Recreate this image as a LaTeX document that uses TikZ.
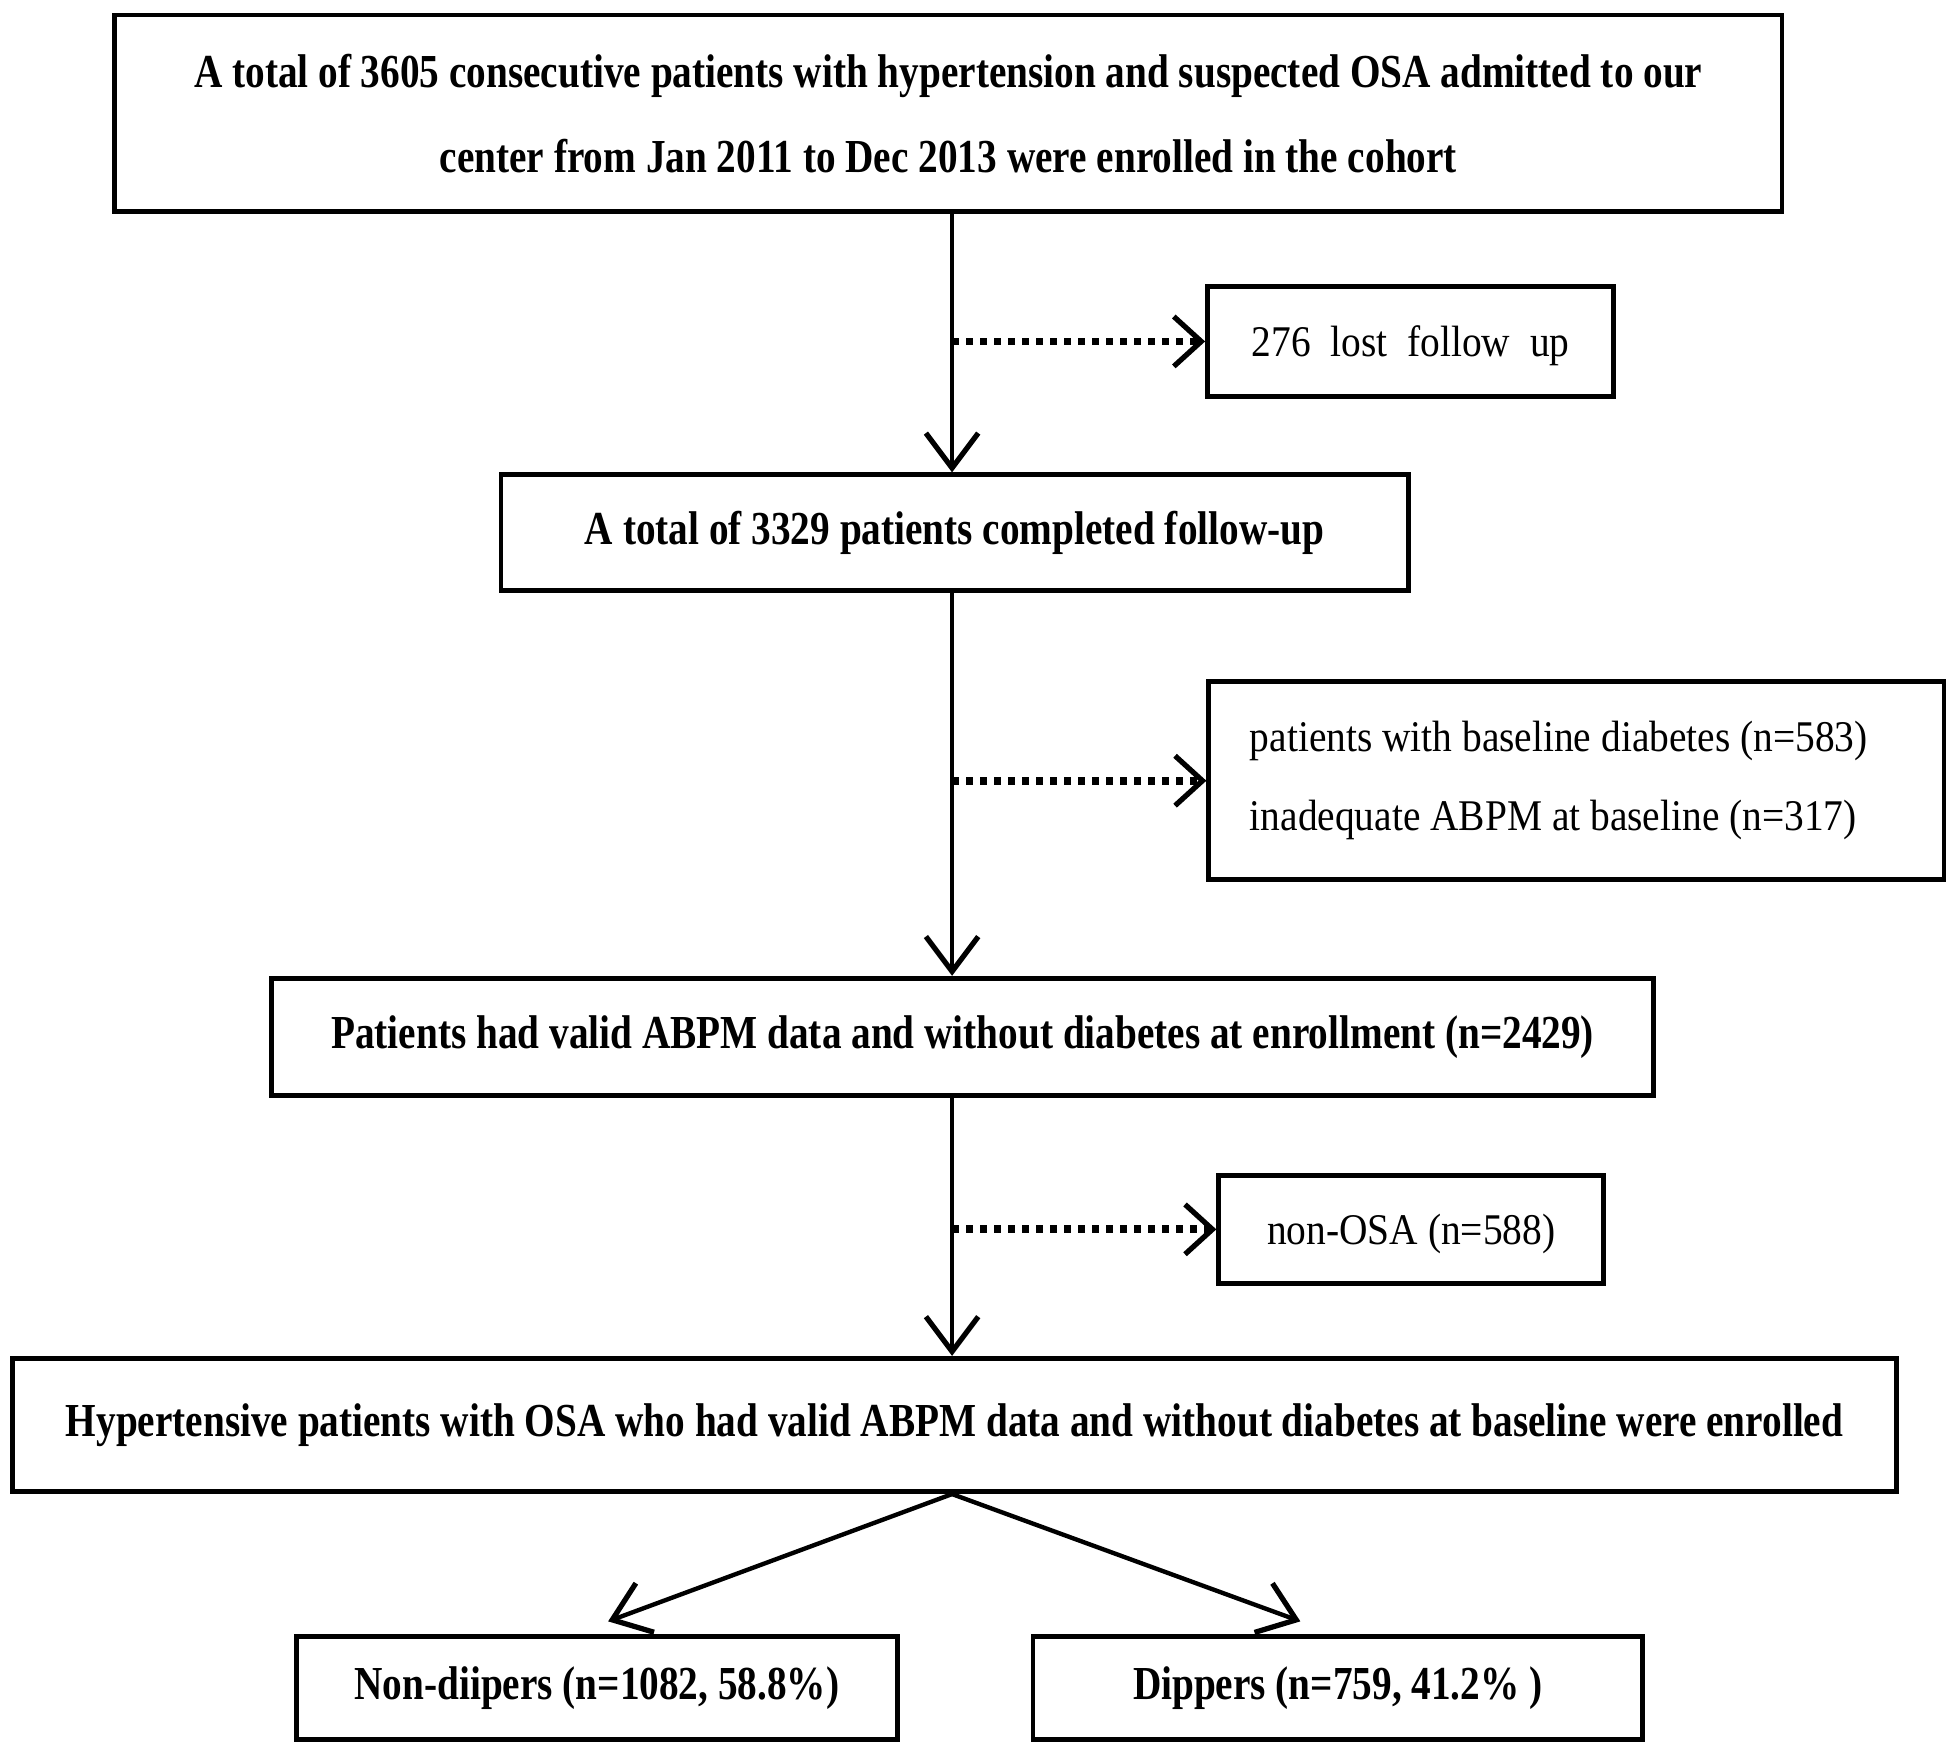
\documentclass[tikz,border=0pt]{standalone}
\usepackage{fontspec}
\setmainfont{Liberation Serif}
\newfontfamily\headfont[FakeStretch=0.83]{Liberation Serif Bold}
\newfontfamily\plainfont[FakeStretch=0.9]{Liberation Serif}
\usepackage{tikz}
\usetikzlibrary{arrows.meta}

\begin{document}
\begin{tikzpicture}[
    box/.style = {draw, line width=1.1pt, minimum width=#1, inner sep=0pt,
                  font=\headfont\fontsize{10.8}{19.3}\selectfont, align=center},
    exclbox/.style = {draw, line width=1.1pt, minimum width=#1, inner sep=0pt,
                  font=\plainfont\fontsize{10}{18}\selectfont},
    arr/.style = {line width=1pt, -{Straight Barb[length=0.28cm, width=0.42cm, line width=1.2pt]}},
    dotarr/.style = {line width=1.8pt, dash pattern=on 1.6pt off 1.6pt,
                  -{Straight Barb[length=0.22cm, width=0.4cm, line width=1.2pt]}}
  ]
    \useasboundingbox (0,0) rectangle (15.64,-14.0);

    % main column
    \node[box=13.38cm, minimum height=1.58cm] (top) at (7.61,-0.91)
      {A total of 3605 consecutive patients with hypertension and suspected OSA admitted to our\\
       center from Jan 2011 to Dec 2013 were enrolled in the cohort};
    \node[box=7.28cm, minimum height=0.93cm] (comp) at (7.66,-4.275)
      {A total of 3329 patients completed follow-up};
    \node[box=11.09cm, minimum height=0.94cm] (valid) at (7.725,-8.32)
      {Patients had valid ABPM data and without diabetes at enrollment (n=2429)};
    \node[box=15.12cm, minimum height=1.07cm] (hyp) at (7.66,-11.435)
      {Hypertensive patients with OSA who had valid ABPM data and without diabetes at baseline were enrolled};
    \node[box=4.82cm, minimum height=0.83cm] (nondip) at (4.79,-13.545)
      {Non-diipers (n=1082, 58.8\%)};
    \node[box=4.89cm, minimum height=0.83cm] (dip) at (10.735,-13.545)
      {Dippers (n=759, 41.2\% )};

    % excluded
    \node[exclbox=3.26cm, minimum height=0.88cm, text depth=-0.24cm] (lost) at (11.32,-2.74)
      {276~ lost~ follow~ up};
    \node[exclbox=5.90cm, minimum height=1.59cm, align=flush left, text width=5.24cm] (excl) at (12.65,-6.265)
      {patients with baseline diabetes (n=583)\\inadequate ABPM at baseline (n=317)};
    \node[exclbox=3.09cm, minimum height=0.87cm, text depth=-0.16cm] (nonosa) at (11.325,-9.865)
      {non-OSA (n=588)};

    \coordinate (spine) at (7.64,0);

    \draw[arr] (top.south -| spine) -- (comp.north -| spine);
    \draw[arr] (comp.south -| spine) -- (valid.north -| spine);
    \draw[arr] (valid.south -| spine) -- (hyp.north -| spine);

    \draw[dotarr] (lost.west -| spine) -- (lost.west);
    \draw[dotarr] (excl.west -| spine) -- (excl.west);
    \draw[dotarr] (nonosa.west -| spine) -- (nonosa.west);

    \draw[arr] (hyp.south -| spine) -- ([shift={(0.09,0.1)}]nondip.north);
    \draw[arr] (hyp.south -| spine) -- ([shift={(-0.3,0.1)}]dip.north);
\end{tikzpicture}
\end{document}
